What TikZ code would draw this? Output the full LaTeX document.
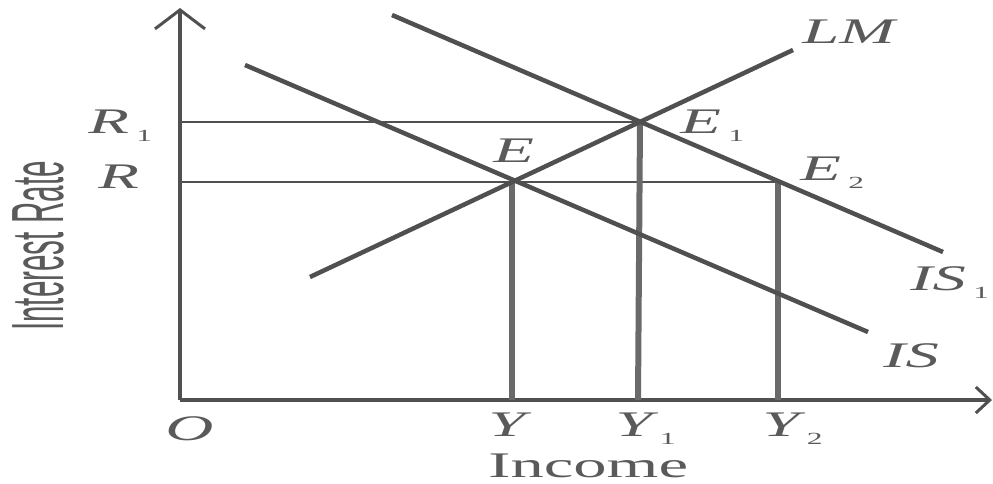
\documentclass[tikz,border=0pt]{standalone}
\usepackage{fontspec}
\setmainfont{Liberation Serif}
\newfontfamily\narrowsans{Liberation Sans}
\usetikzlibrary{arrows.meta}
\definecolor{ink}{HTML}{505050}
\definecolor{vink}{HTML}{6A6A6A}
\definecolor{tink}{HTML}{5A5A5A}
\newcommand\subx[1]{\hspace{4pt}\raisebox{-8pt}{\fontsize{17}{17}\selectfont\upshape #1}}
\tikzset{
  curve/.style={draw=ink, line width=4.5pt},
  level/.style={draw=ink, line width=2.5pt},
  drop/.style={draw=vink, line width=6pt},
  axis/.style={draw=ink, line width=4pt},
  lab/.style={anchor=base west, inner sep=0pt, text=tink, xscale=1.85,
    font=\fontsize{36}{40}\selectfont\itshape},
}
\begin{document}
\begin{tikzpicture}[x=1pt,y=-1pt]
\useasboundingbox (0,0) rectangle (993,483);
% axes
\coordinate (O) at (180,400);
\coordinate (ytop) at (180,8);
\coordinate (xend) at (992,400);
\draw[axis,-{Straight Barb[length=19pt,width=50pt,line width=3pt]}] (O) -- (ytop);
\draw[axis,-{Straight Barb[length=14pt,width=26pt,line width=3pt]}] (O) -- (xend);
% points
\coordinate (E) at (512,182);
\coordinate (E1) at (640,122);
\coordinate (E2) at (779,182);
\coordinate (R) at (180,182);
\coordinate (R1) at (180,122);
\coordinate (Y) at (512,400);
\coordinate (Y1) at (638,400);
\coordinate (Y2) at (778,400);
% levels
\draw[level] (R1) -- (E1);
\draw[level] (R) -- (E2);
% drops
\draw[drop] (E) -- (Y);
\draw[drop] (E1) -- (Y1);
\draw[drop] (E2 -| Y2) -- (Y2);
% curves
\coordinate (LMa) at (310,277);
\coordinate (LMb) at (793,50);
\coordinate (ISa) at (245,65);
\coordinate (ISb) at (868,332);
\coordinate (IS1a) at (392,15);
\coordinate (IS1b) at (943,252);
\draw[curve] (LMa) -- (LMb);
\draw[curve] (ISa) -- (ISb);
\draw[curve] (IS1a) -- (IS1b);
% labels
\node[lab] (lLM) at (802,43) {LM};
\node[lab] (lE1) at (680,133) {E\subx{1}};
\node[lab] (lE2) at (800,180) {E\subx{2}};
\node[lab] (lIS1) at (910,290) {IS\subx{1}};
\node[lab] (lIS) at (883,367) {IS};
\node[lab] (lE) at (493,162) {E};
\node[lab] (lR1) at (88,133) {R\subx{1}};
\node[lab] (lR) at (98,188) {R};
\node[lab] (lO) at (165,440) {O};
\node[lab] (lY) at (488,436) {Y};
\node[lab] (lY1) at (615,436) {Y\subx{1}};
\node[lab] (lY2) at (762,436) {Y\subx{2}};
\node[lab, text depth=0pt, font=\fontsize{36}{40}\selectfont] (linc) at (488,477) {Income};
\node[inner sep=0pt, text=tink, rotate=90] (lrate) at (38,246)
  {\scalebox{0.4}[1]{\narrowsans\fontsize{74}{80}\selectfont Interest Rate}};
\end{tikzpicture}
\end{document}
